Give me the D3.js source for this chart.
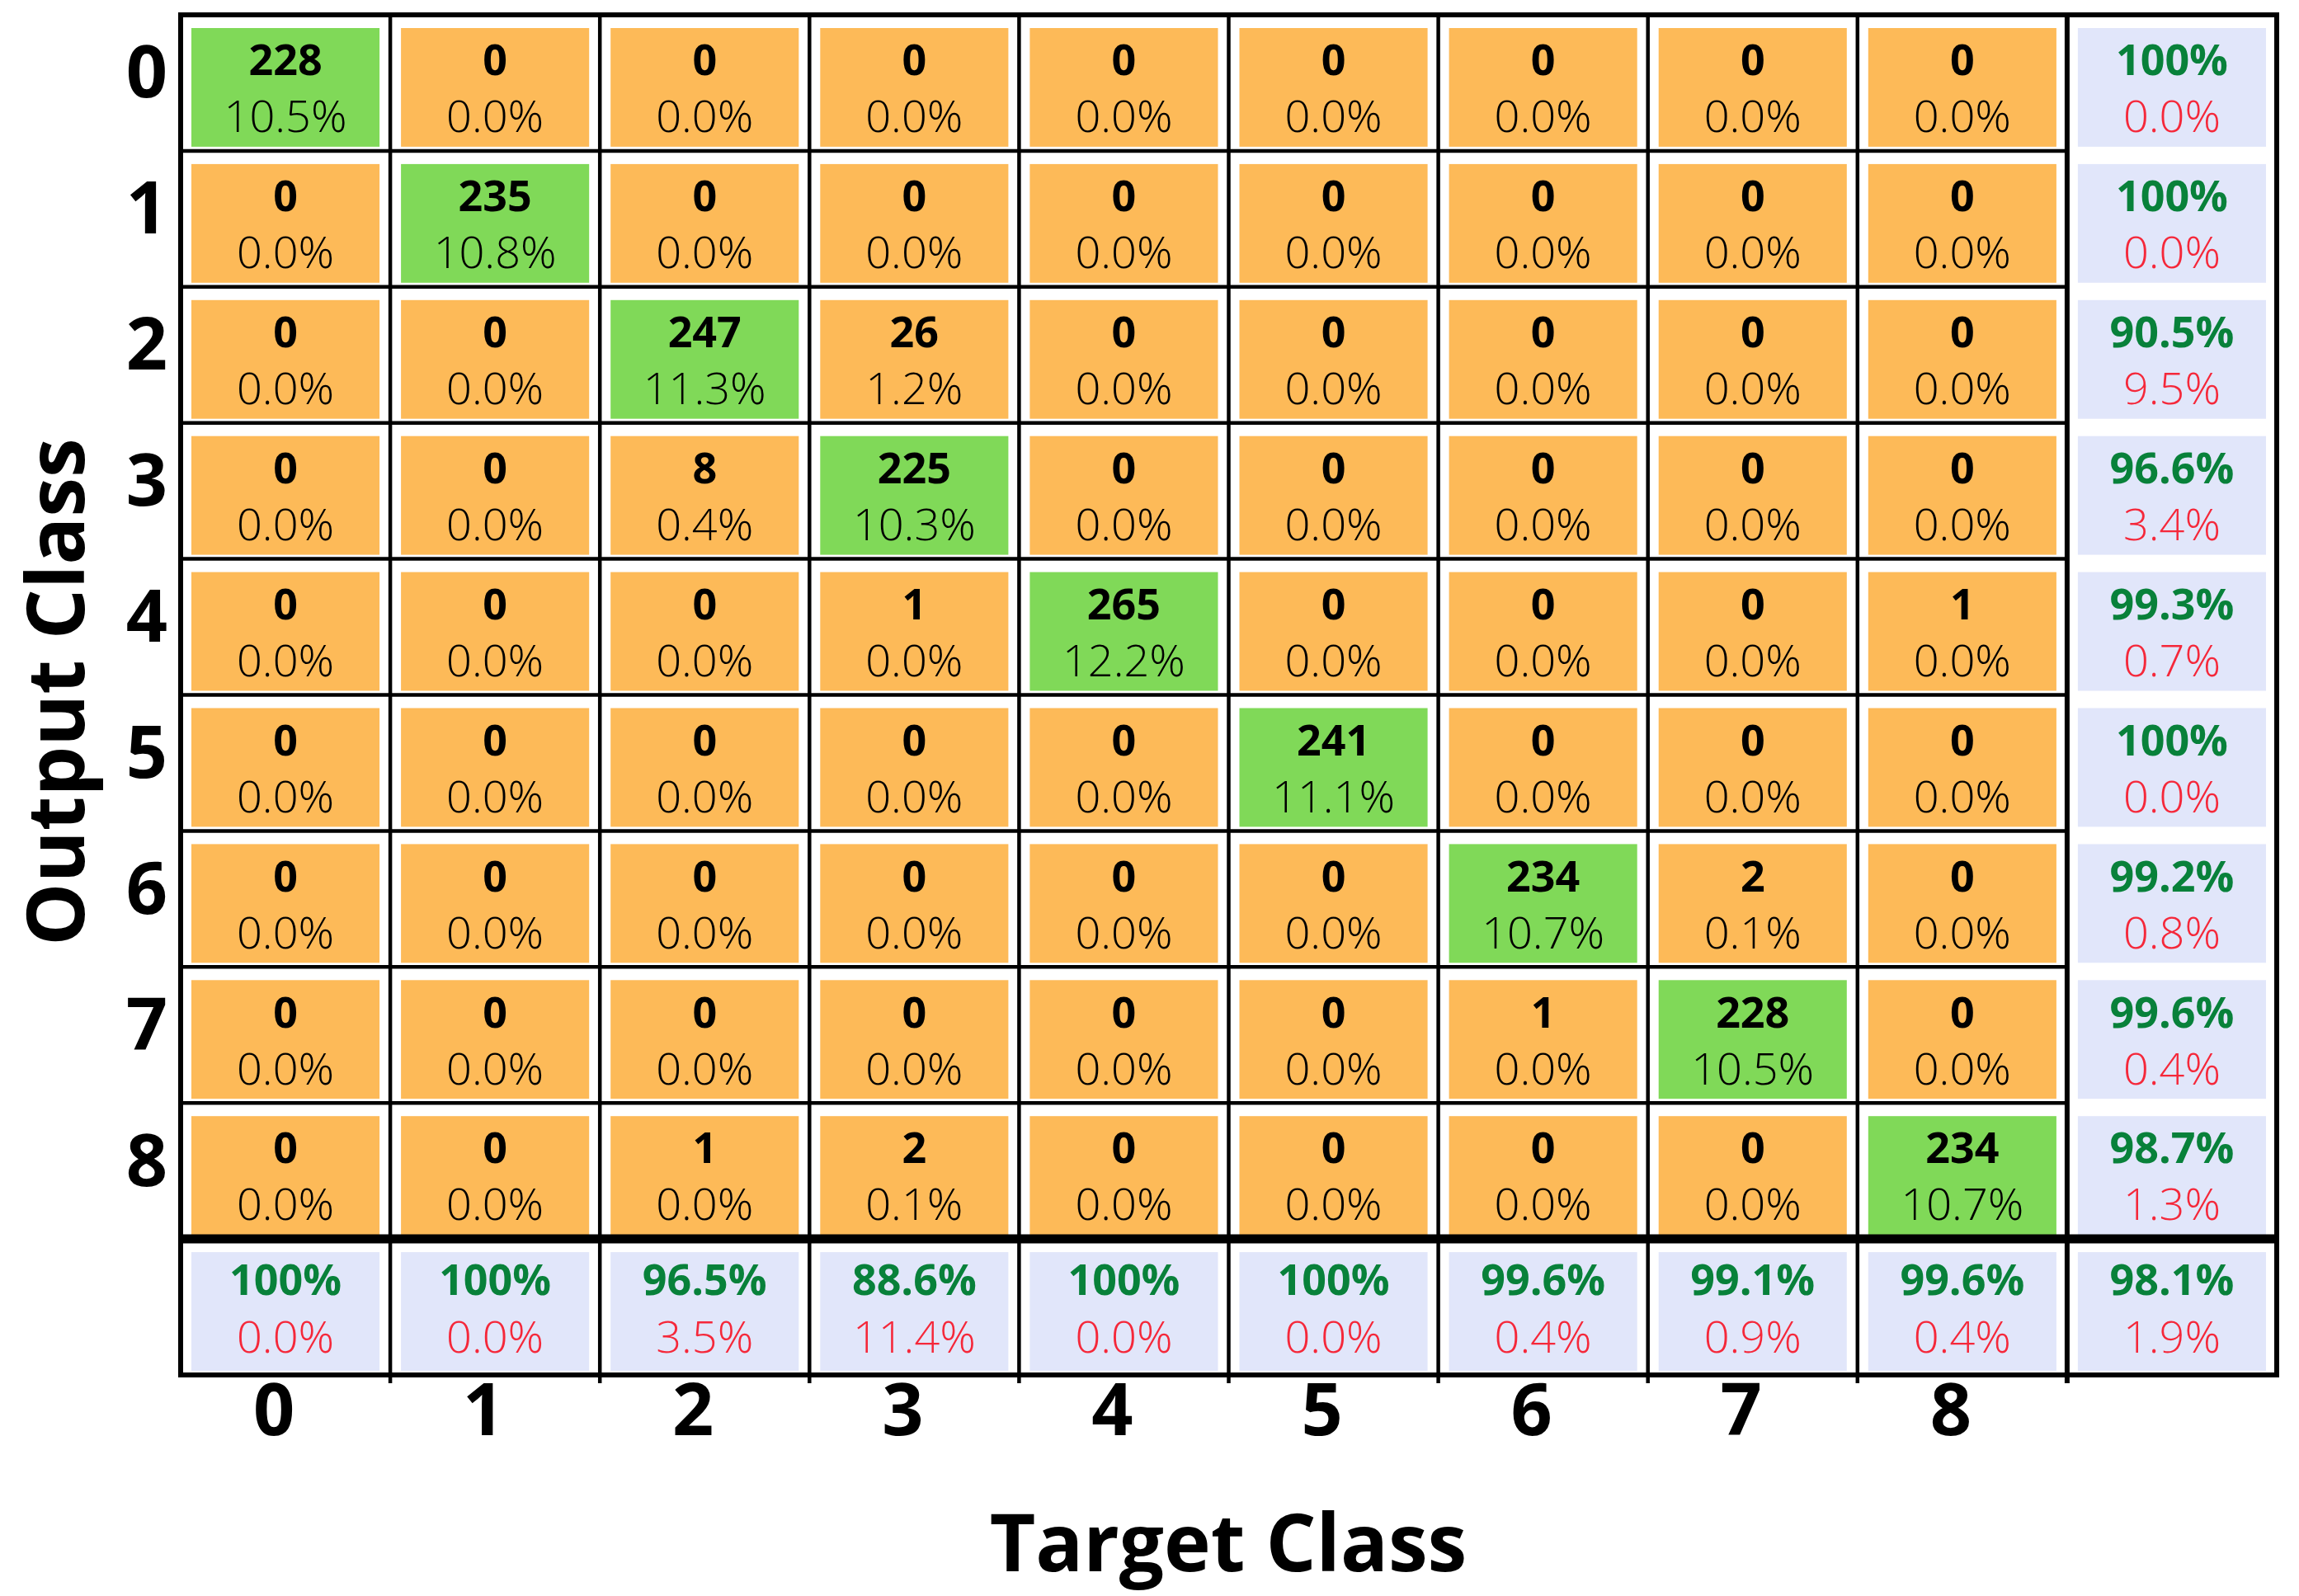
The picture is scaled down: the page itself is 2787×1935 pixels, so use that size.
<!DOCTYPE html>
<html>
<head>
<meta charset="utf-8">
<script src="https://cdn.jsdelivr.net/npm/d3@7"></script>
<style>
  html, body { margin: 0; padding: 0; background: #ffffff; }
  svg { display: block; }
</style>
</head>
<body>
<svg id="chart" width="2787" height="1935"></svg>
<script>
// ---------- DATA ----------
const classes = ["0", "1", "2", "3", "4", "5", "6", "7", "8"];

// counts[outputRow][targetCol]
const counts = [
  [228, 0, 0, 0, 0, 0, 0, 0, 0],
  [0, 235, 0, 0, 0, 0, 0, 0, 0],
  [0, 0, 247, 26, 0, 0, 0, 0, 0],
  [0, 0, 8, 225, 0, 0, 0, 0, 0],
  [0, 0, 0, 1, 265, 0, 0, 0, 1],
  [0, 0, 0, 0, 0, 241, 0, 0, 0],
  [0, 0, 0, 0, 0, 0, 234, 2, 0],
  [0, 0, 0, 0, 0, 0, 1, 228, 0],
  [0, 0, 1, 2, 0, 0, 0, 0, 234]
];

const cellPercents = [
  ["10.5%", "0.0%", "0.0%", "0.0%", "0.0%", "0.0%", "0.0%", "0.0%", "0.0%"],
  ["0.0%", "10.8%", "0.0%", "0.0%", "0.0%", "0.0%", "0.0%", "0.0%", "0.0%"],
  ["0.0%", "0.0%", "11.3%", "1.2%", "0.0%", "0.0%", "0.0%", "0.0%", "0.0%"],
  ["0.0%", "0.0%", "0.4%", "10.3%", "0.0%", "0.0%", "0.0%", "0.0%", "0.0%"],
  ["0.0%", "0.0%", "0.0%", "0.0%", "12.2%", "0.0%", "0.0%", "0.0%", "0.0%"],
  ["0.0%", "0.0%", "0.0%", "0.0%", "0.0%", "11.1%", "0.0%", "0.0%", "0.0%"],
  ["0.0%", "0.0%", "0.0%", "0.0%", "0.0%", "0.0%", "10.7%", "0.1%", "0.0%"],
  ["0.0%", "0.0%", "0.0%", "0.0%", "0.0%", "0.0%", "0.0%", "10.5%", "0.0%"],
  ["0.0%", "0.0%", "0.0%", "0.1%", "0.0%", "0.0%", "0.0%", "0.0%", "10.7%"]
];

// right column (per output class)
const rowCorrect = ["100%", "100%", "90.5%", "96.6%", "99.3%", "100%", "99.2%", "99.6%", "98.7%"];
const rowWrong   = ["0.0%", "0.0%", "9.5%", "3.4%", "0.7%", "0.0%", "0.8%", "0.4%", "1.3%"];

// bottom row (per target class)
const colCorrect = ["100%", "100%", "96.5%", "88.6%", "100%", "100%", "99.6%", "99.1%", "99.6%"];
const colWrong   = ["0.0%", "0.0%", "3.5%", "11.4%", "0.0%", "0.0%", "0.4%", "0.9%", "0.4%"];

const overallCorrect = "98.1%";
const overallWrong = "1.9%";

const xTitle = "Target Class";
const yTitle = "Output Class";

// ---------- STYLE ----------
const C_DIAG = "#80D958";
const C_OFF = "#FDBA58";
const C_SUM = "#E1E6FA";
const C_GOOD = "#08813A";
const C_BAD = "#F5283A";
const FONT = "'Open Sans', 'Noto Sans', sans-serif";
const FONT_LIGHT = "'Open Sans Light', 'Open Sans', 'Noto Sans', sans-serif";

// ---------- LAYOUT ----------
const svg = d3.select("#chart");
const keys = classes.concat(["total"]);

const x = d3.scaleBand().domain(keys).range([219, 2760]).padding(0);
const y = d3.scaleBand().domain(keys).range([18, 1667]).padding(0);
const bw = x.bandwidth(), bh = y.bandwidth();

const inset = { l: 13, r: 13, t: 16, b: 5 };

// build cell list
const cells = [];
classes.forEach((rk, i) => {
  classes.forEach((ck, j) => {
    cells.push({ r: rk, c: ck, type: i === j ? "diag" : "off",
      top: String(counts[i][j]), bottom: cellPercents[i][j] });
  });
  cells.push({ r: rk, c: "total", type: "sum", top: rowCorrect[i], bottom: rowWrong[i] });
});
classes.forEach((ck, j) => {
  cells.push({ r: "total", c: ck, type: "sum", top: colCorrect[j], bottom: colWrong[j] });
});
cells.push({ r: "total", c: "total", type: "sum", top: overallCorrect, bottom: overallWrong });

const fillOf = d => d.type === "diag" ? C_DIAG : d.type === "off" ? C_OFF : C_SUM;
const topFrac = d => d.r === "total" ? 0.29 : 0.32;
const botFrac = d => d.r === "total" ? 0.71 : 0.735;

const g = svg.append("g");

g.selectAll("rect.cell").data(cells).join("rect")
  .attr("class", "cell")
  .attr("x", d => x(d.c) + inset.l)
  .attr("y", d => y(d.r) + inset.t)
  .attr("width", bw - inset.l - inset.r)
  .attr("height", bh - inset.t - inset.b)
  .attr("fill", fillOf);

g.selectAll("text.top").data(cells).join("text")
  .attr("class", "top")
  .attr("x", d => x(d.c) + bw / 2)
  .attr("y", d => y(d.r) + bh * topFrac(d))
  .attr("text-anchor", "middle")
  .attr("dominant-baseline", "central")
  .attr("font-family", FONT)
  .attr("font-weight", 700)
  .attr("font-size", 52)
  .attr("fill", d => d.type === "sum" ? C_GOOD : "#000000")
  .text(d => d.top);

g.selectAll("text.bottom").data(cells).join("text")
  .attr("class", "bottom")
  .attr("x", d => x(d.c) + bw / 2)
  .attr("y", d => y(d.r) + bh * botFrac(d))
  .attr("text-anchor", "middle")
  .attr("dominant-baseline", "central")
  .attr("font-family", FONT_LIGHT)
  .attr("font-weight", 300)
  .attr("font-size", 54)
  .attr("fill", d => d.type === "sum" ? C_BAD : "#000000")
  .text(d => d.bottom);

// ---------- GRID LINES ----------
const gLeft = x.range()[0], gRight = x.range()[1];
const gTop = y.range()[0], gBottom = y.range()[1];
const matRight = x("total");
const matBottom = y("total");

const lines = svg.append("g").attr("stroke", "#000");

// internal horizontal lines (matrix part only)
lines.selectAll("line.h").data(classes.slice(1)).join("line")
  .attr("class", "h")
  .attr("x1", gLeft).attr("x2", matRight)
  .attr("y1", d => y(d)).attr("y2", d => y(d))
  .attr("stroke-width", 4.5);

// internal vertical lines (full height, small tick below)
lines.selectAll("line.v").data(classes.slice(1)).join("line")
  .attr("class", "v")
  .attr("x1", d => x(d)).attr("x2", d => x(d))
  .attr("y1", gTop).attr("y2", gBottom + 10)
  .attr("stroke-width", 4.5);

// separator between matrix and totals column
lines.append("line")
  .attr("x1", matRight).attr("x2", matRight)
  .attr("y1", gTop).attr("y2", gBottom + 10)
  .attr("stroke-width", 6);

// thick separator above totals row
lines.append("line")
  .attr("x1", gLeft).attr("x2", gRight)
  .attr("y1", matBottom).attr("y2", matBottom)
  .attr("stroke-width", 11);

// outer border
lines.append("rect")
  .attr("x", gLeft).attr("y", gTop)
  .attr("width", gRight - gLeft).attr("height", gBottom - gTop)
  .attr("fill", "none").attr("stroke-width", 6);

// ---------- AXIS LABELS ----------
const axisG = svg.append("g")
  .attr("font-family", FONT).attr("font-weight", 700).attr("fill", "#000");

axisG.selectAll("text.rowlab").data(classes).join("text")
  .attr("class", "rowlab")
  .attr("x", 178)
  .attr("y", d => y(d) + bh / 2 - 16)
  .attr("text-anchor", "middle")
  .attr("dominant-baseline", "central")
  .attr("font-size", 88)
  .text(d => d);

axisG.selectAll("text.collab").data(classes).join("text")
  .attr("class", "collab")
  .attr("x", d => x(d) + bw / 2 - 14)
  .attr("y", 1740)
  .attr("text-anchor", "middle")
  .attr("font-size", 88)
  .text(d => d);

axisG.append("text")
  .attr("x", 1489).attr("y", 1905)
  .attr("text-anchor", "middle")
  .attr("font-size", 96)
  .text(xTitle);

axisG.append("text")
  .attr("transform", "translate(102, 839) rotate(-90)")
  .attr("text-anchor", "middle")
  .attr("font-size", 96)
  .text(yTitle);
</script>
</body>
</html>
